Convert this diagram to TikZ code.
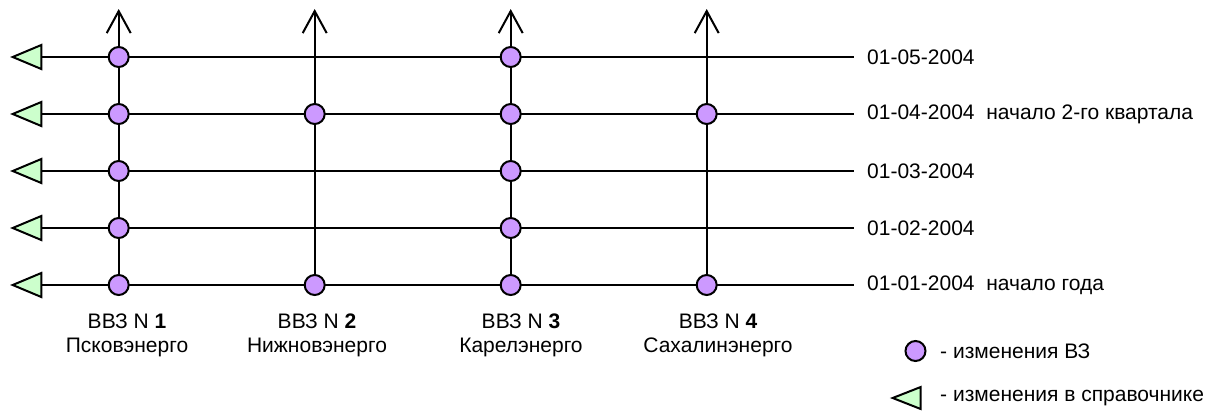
\documentclass[tikz,border=0pt]{standalone}
\usepackage{fontspec}
\setmainfont{Liberation Sans}
\usetikzlibrary{arrows.meta}
\definecolor{dotfill}{RGB}{204,153,255}
\definecolor{trifill}{RGB}{204,255,204}
\begin{document}
\begin{tikzpicture}[x=1pt,y=-1pt,
  ln/.style={line width=2pt,black},
  dot/.style={circle,draw=black,line width=2pt,fill=dotfill,minimum size=20pt,inner sep=0pt},
  trist/.style={draw=black,line width=2pt,fill=trifill,line join=miter},
  txt/.style={font=\fontsize{21}{24}\selectfont,inner sep=0pt},
  up/.style={ln,-{Straight Barb[length=22pt,width=24pt,line width=2pt]}}]
\useasboundingbox (0,0) rectangle (1216,410);
% grid coordinates
\foreach \r/\y in {1/57,2/114,3/171,4/228,5/285}{
  \foreach \c/\x in {1/118.7,2/314.7,3/510.7,4/706.7}{
    \coordinate (p\r-\c) at (\x,\y);
  }
  \coordinate (e\r) at (854,\y);
  \coordinate (b\r) at (41.3,\y);
}
\foreach \c/\x in {1/118.7,2/314.7,3/510.7,4/706.7}{
  \coordinate (top\c) at (\x,9);
}
% horizontal lines
\foreach \r in {1,...,5}{ \draw[ln] (b\r) -- (e\r); }
% triangles
\foreach \r in {1,...,5}{
  \draw[trist] (b\r) ++(-28.6,0) -- ++(28.6,-12) -- ++(0,24) -- cycle;
}
% vertical lines
\foreach \c in {1,...,4}{ \draw[up] (p5-\c) -- (top\c); }
% dots
\foreach \r/\c in {1/1,1/3,2/1,2/2,2/3,2/4,3/1,3/3,4/1,4/3,5/1,5/2,5/3,5/4}{
  \node[dot] (d\r-\c) at (p\r-\c) {};
}
% dates
\node[txt,anchor=west] (l1) at (867,57) {01-05-2004};
\node[txt,anchor=west] (l2) at (867,114) {01-04-2004\ \ начало 2-го квартала};
\node[txt,anchor=west] (l3) at (867,171) {01-03-2004};
\node[txt,anchor=west] (l4) at (867,228) {01-02-2004};
\node[txt,anchor=west] (l5) at (867,285) {01-01-2004\ \ начало года};
% column labels
\node[txt,align=center,anchor=north] (n1) at (127,314) {ВВЗ N \textbf{1}\\Псковэнерго};
\node[txt,align=center,anchor=north] (n2) at (317,314) {ВВЗ N \textbf{2}\\Нижновэнерго};
\node[txt,align=center,anchor=north] (n3) at (521,314) {ВВЗ N \textbf{3}\\Карелэнерго};
\node[txt,align=center,anchor=north] (n4) at (718,314) {ВВЗ N \textbf{4}\\Сахалинэнерго};
% legend
\node[dot] (ld) at (915.5,351) {};
\node[txt,anchor=west] (lt1) at (940,351) {- изменения ВЗ};
\coordinate (lb) at (920.7,398);
\draw[trist] (lb) ++(-28,0) -- ++(28,-11) -- ++(0,22) -- cycle;
\node[txt,anchor=west] (lt2) at (940,398) {- изменения в справочнике};
\end{tikzpicture}
\end{document}
